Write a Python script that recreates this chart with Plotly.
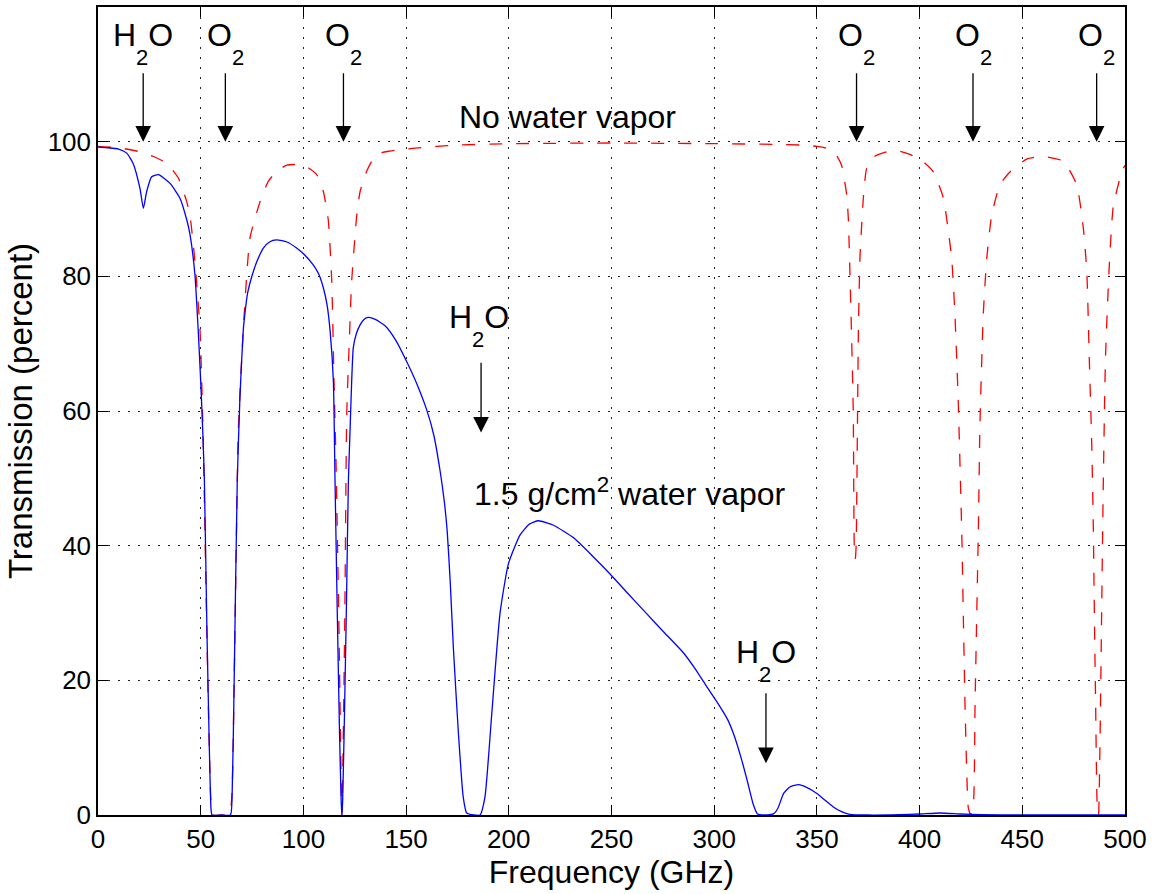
import plotly.graph_objects as go

# ---------------- data ----------------
freq_dry = [0, 10, 20.4, 27, 33.4, 39.1, 43.2, 45, 47.2, 49.7, 51.3, 52.5, 53.8, 55, 56, 60, 64,
            65.2, 66.3, 67.3, 68.3, 70.7, 74, 78.9, 82.9, 87, 91.9, 97.4, 102, 106.5, 109.7, 112.1,
            113.8, 114.9, 115.9, 117.3, 118.75, 120.1, 121.1, 122.3, 123.5, 126, 127.6, 130.8, 133.5,
            137.3, 142, 147, 153, 165, 175, 200, 250, 300, 330, 342, 350, 355, 359, 362, 364.5,
            365.3, 366.8, 367.7, 368.2, 368.7, 369.1, 369.8, 370.2, 371, 372.6, 374.2, 378, 384,
            390, 395.3, 401.8, 406.7, 411.5, 415.6, 417.2, 418.8, 420.5, 421.3, 422.1, 422.9, 423.7,
            424.8, 426.2, 427, 427.8, 428.6, 429.4, 431, 432.7, 435.1, 439.1, 444, 452.1, 460.2,
            470, 476.5, 479.7, 481.4, 482.6, 483.8, 484.6, 485.1, 485.7, 486.5, 487.1, 487.8,
            488.6, 489.4, 490.5, 492.2, 494.3, 498.4, 500]
trans_dry = [99.3, 99.1, 98.5, 97.8, 96.8, 94.6, 91.1, 88.5, 82.2, 71.9, 54.6, 35, 15, 2, 0, 0, 0,
             3, 20, 40, 57, 71.9, 85.7, 91.1, 94.1, 95.6, 96.5, 96.6, 96.2, 95.1, 92.6, 88.4,
             79.3, 64.4, 52.1, 28, 0, 28, 59.5, 70, 79.3, 89.1, 92.6, 95.6, 97.2,
             98.3, 98.6, 98.8, 99.0, 99.3, 99.5, 99.7, 99.8, 99.7, 99.6, 99.5, 99.3, 99.0, 98.2, 96.5, 92.1,
             88.6, 72, 60, 40, 38, 40, 60, 72, 83, 91.6, 96, 97.8, 98.5,
             98.6, 98.1, 97.0, 95.5, 91.7, 82.7, 74.3, 61.5, 42.2, 29.4, 16.5, 6.9, 1.1,
             0, 1.7, 16.5, 29.4, 42.2, 58.3, 74.3, 82.7, 89.1, 93.6, 95.5, 97.4, 97.8,
             97.1, 93.6, 87.2, 80.7, 67.9, 55.1, 42.2, 29.4, 16.5, 1.1, 0, 10.1,
             29.4, 48.6, 67.9, 80.7, 90.4, 95.5, 96.5]

freq_wet = [0, 5, 10, 14, 17.2, 20.4, 22.1, 23.7, 26.1, 29.4, 35.1, 39.9, 43.2, 44.8, 47.2, 48.8,
            50, 51, 51.8, 53, 54.2, 55, 55.5, 60, 64.5, 65.3, 66.3, 67.8, 69.1, 70.7, 71.8, 72.9, 74.8,
            77.5, 80.5, 83.5, 87, 92, 96.7, 100.5, 104.8, 107.5, 109.7, 111.5, 113, 114.6, 115.4,
            116.5, 117.6, 118.4, 118.75, 119.1, 120, 121, 121.9, 122.7, 123.5, 124.3, 125.8, 127.6,
            129.5, 131.6, 135, 140, 145, 150.2, 155, 160, 163.5, 166.5, 168.5, 170, 171.5, 173, 175.5,
            177.8, 179.5, 183, 186, 188.4, 191.7, 195.7, 199.8, 205.5, 210, 214.4, 222, 231.4, 240,
            249.3, 258, 267.1, 276, 285, 291, 296.3, 302.8, 306.5, 309.5, 313, 316, 319, 321, 325,
            329, 331, 333.8, 337, 341.1, 345, 350, 354, 358, 362, 366, 375, 390, 400, 410, 420,
            430, 450, 500]
trans_wet = [99.2, 99.1, 98.9, 98.3, 96.7, 93.1, 90.1, 92.6, 94.8, 95.1, 93.8, 91.6, 88.4, 86.2, 80.2, 71.9,
             64.4, 57, 49.6, 28, 10, 1, 0, 0, 0, 3, 20, 49.6, 62, 71.9, 75.2, 77.6, 79.9,
             82.3, 84.2, 85.1, 85.4, 85.1, 84.2, 83.2, 81.7, 80.3, 78.3, 75.8, 71.9, 64.4, 49.6,
             30, 12, 2, 0, 2, 15, 32, 49.6, 57, 64.4, 69.4, 71.5, 72.8,
             73.6, 73.9, 73.6, 72.6, 70.5, 67.4, 64.2, 60.2, 56.4, 51.2, 46.8, 42.2, 34.5, 24.9, 12,
             2.7, 0.3, 0, 0, 2.7, 15, 29.9, 37.3, 41.6, 43.2, 43.7, 43, 41.2, 38.7,
             35.8, 32.9, 29.9, 27.0, 24.1, 21.6, 19.1, 16.1, 14.2, 12.0, 8.6, 5.2, 1.6, 0.2, 0,
             0.2, 1, 3.2, 4.2, 4.5, 4.1, 3.2, 2.2, 1.2, 0.5, 0.1, 0, 0.05, 0.15, 0.3, 0.15,
             0.05, 0, 0]

assert len(freq_dry) == len(trans_dry), (len(freq_dry), len(trans_dry))
assert len(freq_wet) == len(trans_wet), (len(freq_wet), len(trans_wet))

x_ticks = [0, 50, 100, 150, 200, 250, 300, 350, 400, 450, 500]
y_ticks = [0, 20, 40, 60, 80, 100]

# absorption-line markers: (molecule, subscript, trailing letter), arrow frequency
top_species = [("H", "2", "O"), ("O", "2", ""), ("O", "2", ""), ("O", "2", ""), ("O", "2", ""), ("O", "2", "")]
top_freqs = [22, 62, 119.5, 369.3, 426, 486.2]

FONT = "Liberation Sans, Arial, Helvetica, sans-serif"
ANN_SIZE = 32


def chem(a, sub, b):
    return (a + '<span style="font-size:22px;baseline-shift:-19px">' + sub + '</span>' + b)


fig = go.Figure()
fig.add_trace(go.Scatter(x=freq_dry, y=trans_dry, mode="lines",
                         line=dict(color="#ff0000", width=1.3, dash="13px,14px",
                                   shape="spline", smoothing=0.5)))
fig.add_trace(go.Scatter(x=freq_wet, y=trans_wet, mode="lines",
                         line=dict(color="#0000ff", width=1.3, shape="spline", smoothing=0.5)))

annotations = []


def arrow(x, y_tail, y_head):
    annotations.append(dict(x=x, y=y_head, ax=x, ay=y_tail, xref="x", yref="y",
                            axref="x", ayref="y", text="", showarrow=True,
                            arrowhead=2, arrowsize=2.4, arrowwidth=1.3, arrowcolor="black"))


def label(x, y, txt, size=ANN_SIZE, yanchor="middle"):
    annotations.append(dict(x=x, y=y, xref="x", yref="y", text=txt, showarrow=False,
                            xanchor="center", yanchor=yanchor,
                            font=dict(family=FONT, size=size, color="black")))


for sp, f in zip(top_species, top_freqs):
    label(f, 114.6, chem(*sp))
    arrow(f, 110.4, 100.0)

label(185.5, 72.7, chem("H", "2", "O"))
arrow(186.5, 67.4, 56.8)
label(325.2, 22.9, chem("H", "2", "O"))
arrow(325.2, 18.3, 7.7)

label(228.7, 103.7, "No water vapor")
label(259.0, 48.0, "1.5 g/cm<sup>2</sup> water vapor")

fig.update_layout(
    width=1156, height=894,
    margin=dict(l=98, r=31, t=5, b=79),
    paper_bgcolor="white", plot_bgcolor="white",
    showlegend=False,
    font=dict(family=FONT, size=26, color="black"),
    annotations=annotations,
    xaxis=dict(range=[0, 500], tickvals=x_ticks, ticks="inside", ticklen=10, tickwidth=1,
               tickcolor="black", showline=True, linecolor="black", linewidth=1.5,
               mirror="ticks", showgrid=True, gridcolor="#222", gridwidth=1,
               griddash="2px,8px", zeroline=False,
               title=dict(text="Frequency (GHz)", standoff=4, font=dict(size=32))),
    yaxis=dict(range=[0, 120], tickvals=y_ticks, ticks="inside", ticklen=10, tickwidth=1,
               tickcolor="black", showline=True, linecolor="black", linewidth=1.5,
               mirror="ticks", showgrid=True, gridcolor="#222", gridwidth=1,
               griddash="2px,8px", zeroline=False,
               title=dict(text="Transmission (percent)", standoff=5, font=dict(size=33))),
)

fig.write_html("out.html")
